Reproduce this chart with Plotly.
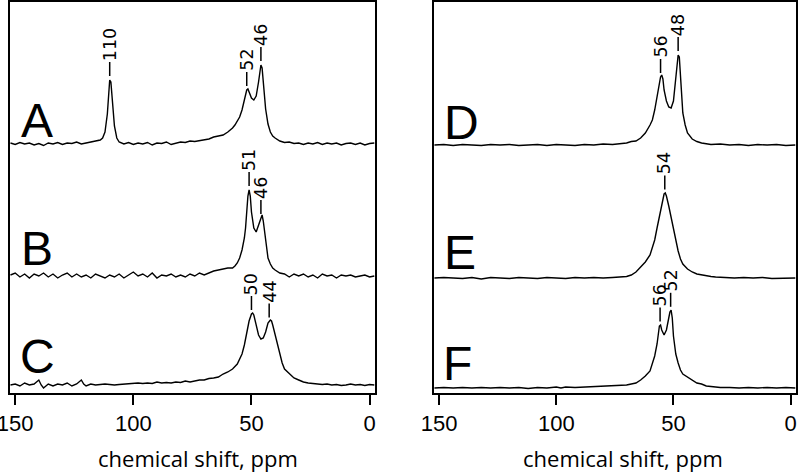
import numpy as np
import plotly.graph_objects as go

# ---------------- data (heights in arbitrary units above baseline) ----------------
ppm_A = [152, 150, 148, 146, 144, 142, 140, 138, 136, 134, 132, 130, 128, 126, 124, 122, 120, 118, 116, 114,
         113, 112, 111, 110.5, 110, 109.5, 109, 108, 107, 106, 104, 102, 100, 98, 96, 94, 92, 90, 88, 86, 84,
         82, 80, 78, 76, 74, 72, 70, 68, 66, 64, 62, 60, 58, 57, 56, 55, 54, 53, 52, 51.5, 51, 50, 49, 48, 47,
         46.5, 46, 45.5, 45, 44, 43, 42, 41, 40, 38, 36, 34, 32, 30, 28, 26, 24, 22, 20, 18, 16, 14, 12, 10,
         8, 6, 4, 2, 0, -2]
int_A = [1, -0.5, 1.5, 0, 1, -1, 0.5, -1.5, 1, 0, 1.5, -0.5, 1, 0.5, 2, 0, 1, 2, 3, 4,
         6, 12, 30, 50, 64, 62, 45, 18, 6, 2, 0, 1.5, -0.5, 1, 0, 1.5, -1, 1, 0.5, 2, -0.5,
         1, 2, 1.5, 3, 2.5, 3.5, 4, 5, 7, 8, 9, 12, 16, 19, 23, 27, 34, 45, 54, 55, 52, 46, 44, 48, 62,
         74, 79, 76, 62, 35, 20, 12, 8, 6, 3, 1.5, 2, 0.5, 1, -0.5, 1, 0, 1.5, -0.5, 1, 0, 1, -1, 0.5,
         1, -0.5, 1, -1, 0.5, 1]

ppm_B = [152, 150, 148, 146, 144, 142, 140, 138, 136, 134, 132, 130, 128, 126, 124, 122, 120, 118, 116, 114,
         112, 110, 108, 106, 104, 102, 100, 98, 96, 94, 92, 90, 88, 86, 84, 82, 80, 78, 76, 74, 72, 70, 68,
         66, 64, 62, 60, 58, 57, 56, 55, 54, 53, 52.5, 52, 51.5, 51, 50.5, 50, 49, 48, 47, 46, 45.5, 45, 44,
         43, 42, 41, 40, 38, 36, 34, 32, 30, 28, 26, 24, 22, 20, 18, 16, 14, 12, 10, 8, 6, 4, 2, 0, -2]
int_B = [1, 3, -1, 2, -2, 2, 0, 3, -1, 2, -2, 1, 3, -1, 2, -1, 1, -2, 2, 0,
         -2, 1, -1, 2, -2, 1, 4, 0, 2, -1, 3, -2, 1, 0, 2, -1, 1, -1, 2, 0, 3, 1, 3,
         5, 6, 7, 8, 8, 10, 13, 18, 26, 38, 48, 66, 80, 86, 80, 64, 48, 44, 50, 58, 61, 55, 33,
         18, 12, 8, 6, 3, 2, -1, 2, 0, 2, -1, 1, -2, 2, 0, 1, -2, 1, 0, 1, -1, 0, 1, -1, 0]

ppm_C = [152, 150, 148, 146, 144, 142, 140, 139, 138, 136, 134, 132, 130, 128, 126, 124, 122, 121, 120, 118,
         116, 114, 112, 110, 108, 106, 104, 102, 100, 98, 96, 94, 92, 90, 88, 86, 84, 82, 80, 78, 76, 74, 72,
         70, 68, 66, 64, 62, 60, 58, 56, 54, 53, 52, 51, 50, 49.5, 49, 48, 47, 46, 45, 44, 43, 42, 41.5, 41,
         40, 39, 38, 37, 36, 34, 32, 30, 28, 26, 24, 22, 20, 18, 16, 14, 12, 10, 8, 6, 4, 2, 0, -2]
int_C = [0, 1, -1, 2, 0, 1, 5, 0, -3, 1, -1, 1, 0, 2, -1, 1, 5, 1, -1, 1,
         0, 0.5, 1, 0.5, 0, 0.5, 1, 1, 1.5, 2, 1.5, 2, 1.5, 3, 2, 2.5, 2, 3, 2.5, 4, 3, 4, 5,
         5, 6.5, 7, 8, 11, 13, 16, 21, 31, 40, 52, 64, 71, 72, 70, 60, 50, 46, 47, 53, 62, 65, 64, 60,
         50, 40, 30, 22, 16, 11, 7, 5, 3, 2, 1.5, 1, 0.5, 1, 0, 0.5, -0.5, 0, 1, 0, 0.5, -0.5, 0.5, 0]

ppm_D = [152, 148, 144, 140, 136, 132, 128, 124, 120, 116, 112, 108, 104, 100, 96, 92, 88, 84, 80, 76, 72,
         70, 68, 66, 64, 62, 60, 59, 58, 57, 56, 55.5, 55, 54.5, 54, 53, 52, 51, 50, 49, 48.5, 48, 47.5, 47,
         46.5, 46, 45, 44, 42, 40, 38, 36, 34, 30, 26, 22, 18, 14, 10, 6, 2, -2]
int_D = [0, 0.5, -0.5, 0.5, 0, -0.5, 0.5, 0, 0.5, -0.5, 0, 0.5, -0.5, 0.5, 0, -0.5, 0.5, 0, 1, 0.5, 1.5,
         2, 3.5, 4, 7, 12, 20, 25, 35, 50, 62, 68, 70, 66, 55, 44, 38, 37, 44, 65, 80, 90, 88, 70,
         48, 32, 20, 12, 6, 3.5, 2, 1.5, 0.5, 1, 0, 0.5, -0.5, 0.5, 0, 0.5, -0.5, 0]

ppm_E = [152, 148, 144, 140, 136, 132, 128, 124, 120, 116, 112, 108, 104, 100, 96, 92, 88, 84, 80, 76, 72,
         70, 68, 66, 64, 62, 60, 58, 57, 56, 55, 54, 53.5, 53, 52, 51, 50, 49, 48, 47, 46, 44, 42, 40, 38,
         36, 34, 32, 30, 28, 24, 20, 16, 12, 8, 4, 0, -2]
int_E = [0, 0.5, 0, -0.5, 0.5, -1, 0.5, 0, -0.5, 0.5, 0, -0.5, 0.5, 0, -0.5, 0.5, 0, 0.5, 0, 0.5, 1,
         1.5, 3, 6, 11, 16, 23, 38, 50, 62, 75, 84, 85, 82, 72, 60, 48, 36, 27, 19, 14, 9, 6, 4, 3,
         2, 1.5, 1, 1, 0.5, 0, 0.5, 0, 0.5, -0.5, 0, 0.5, 0]

ppm_F = [152, 148, 144, 140, 136, 132, 128, 124, 120, 116, 112, 108, 104, 100, 98, 96, 92, 88, 84, 80, 76,
         72, 70, 68, 66, 64, 62, 60, 59, 58, 57, 56.5, 56, 55.5, 55, 54, 53, 52, 51.5, 51, 50.5, 50, 49, 48,
         47, 46, 44, 42, 40, 38, 36, 34, 32, 30, 26, 22, 18, 14, 10, 6, 2, -2]
int_F = [0, 0.5, 0, 0.5, 0, 0.5, 0, 0.5, 0, 0.5, -0.5, 0.5, 0, 1, 0, 1, 0.5, 1, 1, 1.5, 2,
         2.5, 3, 4, 5, 8, 12, 17, 24, 32, 44, 55, 62, 63, 58, 53, 58, 70, 76, 78, 70, 52, 34, 25,
         18, 14, 11, 8, 5, 4, 2, 1.5, 1, 0.5, 0.5, 0, 0.5, 0, 0.5, 0, 0.5, 0]

spectrum_names = ["A", "B", "C", "D", "E", "F"]
peak_labels = {
    "A": [("110", 110), ("52", 52), ("46", 46)],
    "B": [("51", 51), ("46", 46)],
    "C": [("50", 50), ("44", 42.5)],
    "D": [("56", 55.5), ("48", 48)],
    "E": [("54", 53.7)],
    "F": [("56", 55.7), ("52", 51.2)],
}
tick_values = [150, 100, 50, 0]
tick_text = ["150", "100", "50", "0"]
axis_title = "chemical shift, ppm"

# ---------------- layout / style ----------------
spectra = {
    "A": (ppm_A, int_A), "B": (ppm_B, int_B), "C": (ppm_C, int_C),
    "D": (ppm_D, int_D), "E": (ppm_E, int_E), "F": (ppm_F, int_F),
}
panel_of = {"A": 1, "B": 1, "C": 1, "D": 2, "E": 2, "F": 2}
offsets = {"A": 249, "B": 117, "C": 8, "D": 248, "E": 115, "F": 5}
letter_pos = {"A": (0.0726, 272.5), "B": (0.075, 144.5), "C": (0.075, 36.5),
              "D": (0.0773, 270.5), "E": (0.0718, 140.5), "F": (0.065, 29.5)}
title_pos = {1: 0.515, 2: 0.522}   # x-domain fraction of each panel
DASH_GAP, DASH_LEN = 4, 14   # px (1 y-unit == 1 px)

fig = go.Figure()
annotations = []
shapes = []
for name in spectrum_names:
    x, y = spectra[name]
    p = panel_of[name]
    xa = "x" if p == 1 else "x2"
    ya = "y" if p == 1 else "y2"
    yy = np.array(y, dtype=float) + offsets[name]
    fig.add_trace(go.Scatter(x=x, y=yy, mode="lines", xaxis=xa, yaxis=ya,
                             line=dict(color="black", width=1.4), showlegend=False,
                             hoverinfo="skip"))
    xs = np.array(x, dtype=float)[::-1]
    ys = yy[::-1]
    for txt, pos in peak_labels[name]:
        ytop = float(np.interp(pos, xs, ys))
        shapes.append(dict(type="line", xref=xa, yref=ya, x0=pos, x1=pos,
                           y0=ytop + DASH_GAP, y1=ytop + DASH_GAP + DASH_LEN,
                           line=dict(color="black", width=1.5)))
        annotations.append(dict(x=pos, y=ytop + DASH_GAP + DASH_LEN, xref=xa, yref=ya, text=txt,
                                textangle=-90, showarrow=False, xanchor="center",
                                yanchor="bottom", yshift=0, borderpad=0,
                                font=dict(family="DejaVu Sans", size=17.5, color="black")))
    lx, ly = letter_pos[name]
    annotations.append(dict(x=lx, y=ly, xref=("x domain" if p == 1 else "x2 domain"), yref=ya,
                            text=name, showarrow=False, xanchor="center", yanchor="middle",
                            font=dict(family="Liberation Sans, Arial", size=48, color="black")))

for p in (1, 2):
    annotations.append(dict(x=title_pos[p], y=-0.166, xref=("x domain" if p == 1 else "x2 domain"),
                            yref="paper", text=axis_title, showarrow=False,
                            xanchor="center", yanchor="middle",
                            font=dict(family="Open Sans", size=22, color="black")))

xaxis_common = dict(range=[152.2, -2.3], tickmode="array", tickvals=tick_values, ticktext=tick_text,
                    ticks="outside", ticklen=10, tickwidth=2, tickcolor="black",
                    showline=True, linewidth=2, linecolor="black", mirror=True,
                    showgrid=False, zeroline=False, automargin=False,
                    ticklabeloverflow="allow", ticklabelstandoff=0,
                    tickfont=dict(family="Liberation Sans, Arial", size=22, color="black"))
yaxis_common = dict(range=[0, 391], showline=True, linewidth=2, linecolor="black", mirror=True,
                    showgrid=False, zeroline=False, showticklabels=False, ticks="",
                    automargin=False)

fig.update_layout(
    width=800, height=472,
    margin=dict(l=10, r=4, t=2, b=79, pad=0),
    plot_bgcolor="white", paper_bgcolor="white",
    xaxis=dict(domain=[0, 0.4644], anchor="y", **xaxis_common),
    yaxis=dict(domain=[0, 1], anchor="x", **yaxis_common),
    xaxis2=dict(domain=[0.5394, 1.0], anchor="y2", **xaxis_common),
    yaxis2=dict(domain=[0, 1], anchor="x2", **yaxis_common),
    annotations=annotations,
    shapes=shapes,
)

fig.write_html("out.html", config={"displayModeBar": False, "staticPlot": True},
               post_script="document.body.style.margin='0';document.body.style.overflow='hidden';")
